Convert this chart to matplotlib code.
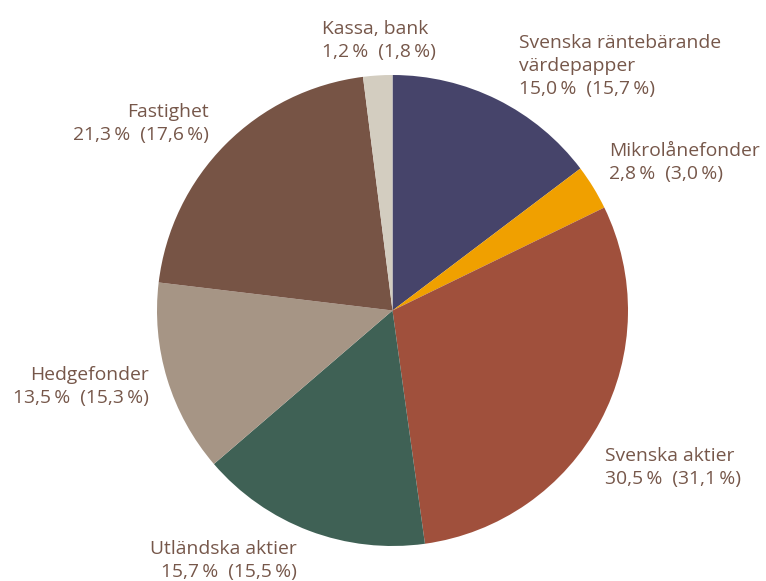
import matplotlib
matplotlib.use('Agg')
import matplotlib.pyplot as plt

plt.rcParams['font.family'] = ['Open Sans', 'DejaVu Sans']

labels = ['Svenska räntebärande\nvärdepapper', 'Mikrolånefonder', 'Svenska aktier',
          'Utländska aktier', 'Hedgefonder', 'Fastighet', 'Kassa, bank']
values = [15.0, 2.8, 30.5, 15.7, 13.5, 21.3, 1.2]
previous = [15.7, 3.0, 31.1, 15.5, 15.3, 17.6, 1.8]
# wedge sizes as drawn in the picture (slightly differ from the labels)
drawn = [14.7, 3.1, 30.0, 15.9, 13.2, 21.1, 2.0]
colors = ['#46446a', '#f0a000', '#a0503c', '#3f6155', '#a69585', '#775445', '#d3cdc0']

# last-line baseline anchor (pixels from top-left) and alignment
label_pos = [(519, 94, 'left'), (609, 179, 'left'), (605, 484, 'left'),
             (297, 577, 'right'), (149, 403, 'right'), (209, 140, 'right'),
             (322, 57, 'left')]

W, H = 766, 581
fig = plt.figure(figsize=(W / 100, H / 100), dpi=100)
ax = fig.add_axes([0, 0, 1, 1])

ax.pie(drawn, colors=colors, startangle=90, counterclock=False,
       center=(392.5, H - 310.5), radius=235.5, wedgeprops=dict(linewidth=0))
ax.set_xlim(0, W)
ax.set_ylim(0, H)
ax.set_aspect('equal')
ax.axis('off')

def fmt(v):
    return ('%.1f' % v).replace('.', ',') + '\u2009%'

for lab, v, p, (x, y, ha) in zip(labels, values, previous, label_pos):
    txt = lab + '\n' + fmt(v) + '  (' + fmt(p) + ')'
    ax.text(x, H - y, txt, ha=ha, va='baseline', multialignment=ha,
            fontsize=13.9, color='#76574a', linespacing=1.37)

fig.savefig('out.png', dpi=100)
